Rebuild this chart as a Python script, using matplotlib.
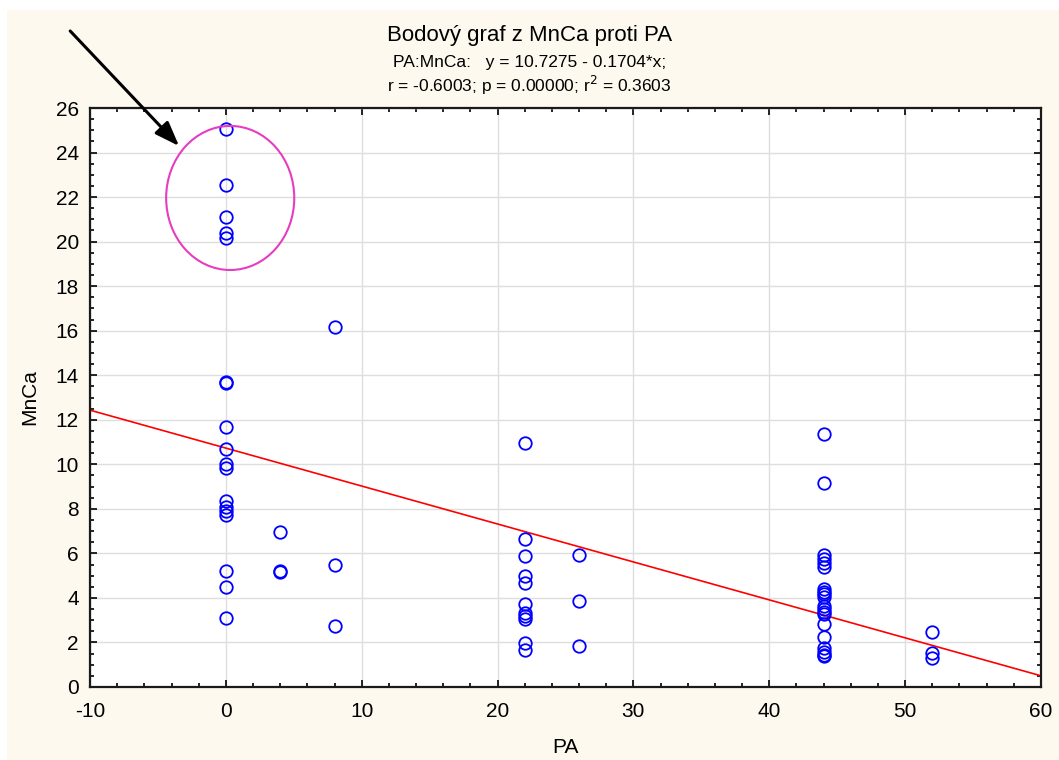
import matplotlib
matplotlib.use("Agg")
import matplotlib.pyplot as plt
from matplotlib.patches import Ellipse, Rectangle
from matplotlib.ticker import MultipleLocator
import numpy as np

plt.rcParams['font.family'] = ['Liberation Sans', 'DejaVu Sans']
plt.rcParams['axes.unicode_minus'] = False

# data (PA, MnCa)
pa_0 = [0]*17
mnca_0 = [25.05, 22.54, 21.1, 20.4, 20.15, 13.7, 13.65, 11.67, 10.7, 10.0, 9.85,
          8.35, 8.1, 7.92, 7.72, 5.21, 4.49]
pa_0b = [0]
mnca_0b = [3.11]
pa_4 = [4, 4, 4]
mnca_4 = [6.97, 5.21, 5.15]
pa_8 = [8, 8, 8]
mnca_8 = [16.16, 5.48, 2.74]
pa_22 = [22]*11
mnca_22 = [10.97, 6.63, 5.9, 5.0, 4.66, 3.74, 3.34, 3.19, 3.05, 1.99, 1.68]
pa_26 = [26]*3
mnca_26 = [5.94, 3.88, 1.84]
pa_44 = [44]*18
mnca_44 = [11.36, 9.15, 5.93, 5.73, 5.55, 5.40, 4.40, 4.28, 4.16, 4.03, 3.64, 3.52,
           3.38, 3.28, 2.83, 2.25, 1.74, 1.56]
pa_44b = [44, 44]
mnca_44b = [1.39, 1.45]
pa_52 = [52]*3
mnca_52 = [2.46, 1.53, 1.32]

intercept = 10.7275
slope = -0.1704
title = "Bodový graf z MnCa proti PA"
subtitle1 = "PA:MnCa:   y = 10.7275 - 0.1704*x;"
subtitle2 = r"r = -0.6003; p = 0.00000; r$^2$ = 0.3603"

x = np.array(pa_0 + pa_0b + pa_4 + pa_8 + pa_22 + pa_26 + pa_44 + pa_44b + pa_52, dtype=float)
y = np.array(mnca_0 + mnca_0b + mnca_4 + mnca_8 + mnca_22 + mnca_26 + mnca_44 + mnca_44b + mnca_52)

W, H = 1059, 760
fig = plt.figure(figsize=(W/100, H/100), dpi=100)
fig.patch.set_facecolor('white')
fig.patches.append(Rectangle((7/W, 0), 1, 1 - 10/H, transform=fig.transFigure,
                             facecolor='#fdf9ef', edgecolor='none', zorder=-10))

ax = fig.add_axes([90/W, 1 - 687/H, (1041-90)/W, (687-108)/H])
ax.set_facecolor('white')
ax.set_xlim(-10, 60)
ax.set_ylim(0, 26)
ax.xaxis.set_major_locator(MultipleLocator(10))
ax.xaxis.set_minor_locator(MultipleLocator(2))
ax.yaxis.set_major_locator(MultipleLocator(2))
ax.yaxis.set_minor_locator(MultipleLocator(0.5))
ax.grid(True, which='major', color='#dedede', linewidth=1.0, zorder=0)
ax.set_axisbelow(True)
ax.tick_params(which='both', direction='in', top=True, right=True, labelsize=15,
               width=1.2, color='black')
ax.tick_params(which='major', length=5)
ax.tick_params(axis='x', which='major', pad=11)
ax.tick_params(axis='y', which='major', pad=8)
ax.tick_params(which='minor', length=3)
for s in ax.spines.values():
    s.set_linewidth(1.6)
    s.set_color('#1a1a1a')

xl = np.array([-10, 60])
ax.plot(xl, intercept + slope * xl, color='#ff0000', linewidth=1.2, zorder=2)
ax.plot(x, y, linestyle='none', marker='o', markersize=9, markerfacecolor='none',
        markeredgecolor='#0000ff', markeredgewidth=1.3, zorder=3)

ell = Ellipse((0.32, 21.96), 9.43, 6.47, facecolor='none', edgecolor='#e83cc0',
              linewidth=1.5, zorder=4)
ax.add_patch(ell)
ax.annotate('', xy=(-3.3, 24.2), xytext=(-11.6, 29.55), xycoords='data',
            textcoords='data', annotation_clip=False,
            arrowprops=dict(arrowstyle='-|>,head_length=1.5,head_width=0.55',
                            color='black', linewidth=2.2))

ax.set_xlabel('PA', fontsize=15, labelpad=12)
ax.set_ylabel('MnCa', fontsize=15, labelpad=12)

fig.text(0.5, 1 - 35/H, title, ha='center', va='center', fontsize=16)
fig.text(0.5, 1 - 62/H, subtitle1, ha='center', va='center', fontsize=12.5)
fig.text(0.5, 1 - 85/H, subtitle2, ha='center', va='center', fontsize=12.5)

fig.savefig('out.png', dpi=100, facecolor=fig.get_facecolor())
